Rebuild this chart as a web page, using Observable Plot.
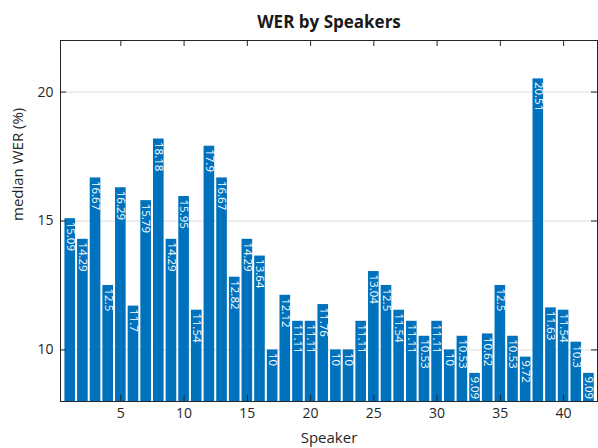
<!DOCTYPE html>
<html><head><meta charset="utf-8">
<script src="https://cdn.jsdelivr.net/npm/d3@7"></script>
<script src="https://cdn.jsdelivr.net/npm/@observablehq/plot@0.6"></script>
<style>body{margin:0;background:#fff}</style>
</head><body><div id="chart"></div>
<script>
const speakers = [1,2,3,4,5,6,7,8,9,10,11,12,13,14,15,16,17,18,19,20,21,22,23,24,25,26,27,28,29,30,31,32,33,34,35,36,37,38,39,40,41,42];
const medianWER = [15.09,14.29,16.67,12.5,16.29,11.7,15.79,18.18,14.29,15.95,11.54,17.9,16.67,12.82,14.29,13.64,10,12.12,11.11,11.11,11.76,10,10,11.11,13.04,12.5,11.54,11.11,10.53,11.11,10,10.53,9.09,10.62,12.5,10.53,9.72,20.51,11.63,11.54,10.3,9.09];
const xTicks = [5,10,15,20,25,30,35,40];
const yTicks = [10,15,20];
const titleText = "WER by Speakers";
const xLabel = "Speaker";
const yLabel = "median WER (%)";

const data = speakers.map((s, i) => ({speaker: s, wer: medianWER[i]}));

const W = 598, H = 448, mL = 60, mR = 1, mT = 40, mB = 47;
const frameW = W - mL - mR, frameH = H - mT - mB;
const font = "'Open Sans', sans-serif";
const ink = "#262626";
const half = 0.42;

const chart = Plot.plot({
  width: W, height: H,
  marginLeft: mL, marginRight: mR, marginTop: mT, marginBottom: mB,
  style: {fontFamily: font, background: "#fff"},
  x: {domain: [0.23, 42.68], label: null},
  y: {domain: [8, 22], label: null},
  marks: [
    Plot.gridY(yTicks, {stroke: "#dcdcdc", strokeOpacity: 1}),
    Plot.rectY(data, {x1: d => d.speaker - half, x2: d => d.speaker + half, y1: 0, y2: "wer", fill: "#0072BD", clip: "frame"}),
    Plot.text(data, {x: "speaker", y: "wer", text: d => String(d.wer), rotate: 90, textAnchor: "start", dy: 3, fill: "white", fontSize: 11.5, fontFamily: font, clip: "frame"}),
    Plot.axisX({ticks: xTicks, tickSize: 0, tickPadding: 7, fontSize: 14, label: null, color: ink}),
    Plot.axisY({ticks: yTicks, tickSize: 0, tickPadding: 7, fontSize: 14, label: null, color: ink}),
    Plot.tickX(xTicks, {x: d => d, insetTop: frameH - 6, stroke: ink}),
    Plot.tickX(xTicks, {x: d => d, insetBottom: frameH - 6, stroke: ink}),
    Plot.tickY(yTicks, {y: d => d, insetRight: frameW - 6, stroke: ink}),
    Plot.tickY(yTicks, {y: d => d, insetLeft: frameW - 6, stroke: ink}),
    Plot.frame({stroke: ink}),
    Plot.text([titleText], {frameAnchor: "top", dy: -18, lineAnchor: "middle", fontSize: 17, fontWeight: "bold", fill: "#1a1a1a", fontFamily: font}),
    Plot.text([xLabel], {frameAnchor: "bottom", dy: 37, lineAnchor: "middle", fontSize: 15, fill: ink, fontFamily: font}),
    Plot.text([yLabel], {frameAnchor: "left", dx: -42, rotate: -90, lineAnchor: "middle", fontSize: 15, fill: ink, fontFamily: font})
  ]
});
document.getElementById("chart").appendChild(chart);
</script>
</body></html>
